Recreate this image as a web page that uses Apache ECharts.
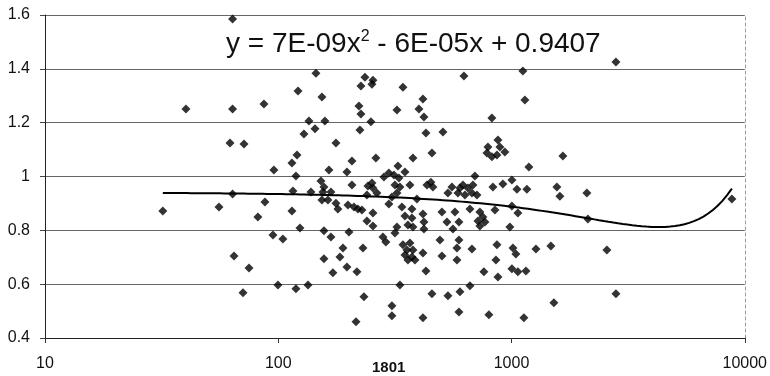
<!DOCTYPE html>
<html>
<head>
<meta charset="utf-8">
<script src="https://cdn.jsdelivr.net/npm/echarts@6/dist/echarts.min.js"></script>
<style>
  html, body { margin: 0; padding: 0; background: #fff; }
  #chart { width: 770px; height: 376px; }
</style>
</head>
<body>
<div id="chart"></div>
<script>
// scatter points (x on log scale)
const pointX = [
  63.7, 40.2, 63.7, 86.8, 62.1, 71.3, 95.8, 32.0, 55.7, 63.7, 87.7, 81.8, 94.9, 64.6, 74.9, 70.6, 99.7,
  145.1, 235.3, 226.2, 254.6, 252.1, 121.5, 153.9, 342.4, 625.2, 221.8, 226.2, 322.7, 417.1, 400.9, 421.2,
  135.4, 158.5, 249.6, 824.1, 128.9, 143.7, 224.0, 429.6, 508.2, 176.7, 874.5, 120.3, 114.5, 455.8, 377.9,
  262.2, 325.9, 207.0, 792.3, 784.5, 824.1, 891.8, 936.9, 865.9, 164.9, 197.0, 119.1, 283.8, 298.1, 313.3,
  329.1, 349.2, 696.8, 1119, 1141, 2803, 1661, 1187, 1004,
  152.4, 157.0, 115.6, 138.1, 155.4, 168.2, 207.0, 242.4, 252.1, 254.6, 264.8, 240.0, 316.4, 332.4, 366.9,
  322.7, 307.1, 433.9, 451.3, 460.3, 533.9, 555.4, 589.2, 601.0, 619.0, 631.4, 650.3, 676.5, 710.8, 683.3,
  832.3, 918.5, 1055, 1164, 1565, 1612, 2105, 8805, 393.1,
  153.9, 163.3, 176.7, 180.2, 199.0, 211.2, 219.6, 228.5, 298.1, 339.0, 374.2, 254.6, 240.0, 254.6, 114.5,
  123.9, 349.2, 374.2, 359.7, 377.9, 417.1, 421.2, 421.2, 322.7, 316.4, 503.2, 572.1, 528.6, 595.1, 560.9,
  663.3, 732.0, 754.0, 769.1, 717.8, 732.0, 849.0, 984.2, 1004, 1065, 2126,
  104.7, 157.0, 168.2, 201.0, 281.0, 289.4, 189.4, 230.7, 157.0, 183.8, 342.4, 366.9, 356.2, 377.9, 349.2,
  374.2, 385.4, 359.7, 417.1, 493.3, 595.1, 503.2, 583.5, 583.5, 676.5, 865.9, 857.4, 1014, 1044, 1273,
  1475, 2564,
  197.0, 171.5, 217.5, 429.6, 761.5, 874.5, 1004, 1065, 1153, 119.1, 134.1, 233.0, 332.4, 663.3, 455.8,
  533.9, 601.0, 2803,
  307.1, 307.1, 215.4, 417.1, 595.1, 800.0, 1519, 1130
];
const pointY = [
  1.585, 1.251, 1.251, 1.269, 1.124, 1.121, 1.024, 0.872, 0.887, 0.935, 0.905, 0.850, 0.783, 0.705, 0.660, 0.568, 0.597,
  1.384, 1.369, 1.336, 1.358, 1.343, 1.318, 1.295, 1.332, 1.373, 1.262, 1.232, 1.247, 1.288, 1.251, 1.221,
  1.206, 1.206, 1.203, 1.217, 1.158, 1.177, 1.173, 1.162, 1.165, 1.124, 1.136, 1.080, 1.050, 1.087, 1.069,
  1.069, 1.039, 1.058, 1.110, 1.087, 1.073, 1.110, 1.091, 1.080, 1.024, 1.017, 1.002, 0.998, 1.013, 1.006,
  0.994, 1.017, 1.002, 1.392, 1.284, 1.425, 1.076, 1.035, 0.987,
  0.983, 0.961, 0.946, 0.942, 0.942, 0.942, 0.968, 0.965, 0.976, 0.957, 0.939, 0.931, 0.968, 0.961, 0.968,
  0.939, 0.924, 0.968, 0.979, 0.961, 0.939, 0.961, 0.939, 0.957, 0.968, 0.931, 0.957, 0.939, 0.931, 0.968,
  0.961, 0.972, 0.953, 0.953, 0.961, 0.927, 0.939, 0.916, 0.916,
  0.913, 0.913, 0.901, 0.879, 0.894, 0.887, 0.879, 0.876, 0.898, 0.887, 0.879, 0.864, 0.835, 0.816, 0.872,
  0.809, 0.853, 0.846, 0.820, 0.812, 0.861, 0.831, 0.805, 0.812, 0.790, 0.868, 0.868, 0.831, 0.831, 0.805,
  0.879, 0.868, 0.850, 0.831, 0.835, 0.816, 0.876, 0.812, 0.890, 0.864, 0.842,
  0.768, 0.798, 0.775, 0.794, 0.775, 0.757, 0.734, 0.734, 0.694, 0.701, 0.746, 0.753, 0.727, 0.727, 0.708,
  0.701, 0.690, 0.690, 0.716, 0.764, 0.764, 0.705, 0.734, 0.690, 0.731, 0.746, 0.690, 0.734, 0.712, 0.731,
  0.742, 0.727,
  0.664, 0.642, 0.646, 0.649, 0.646, 0.627, 0.657, 0.646, 0.649, 0.583, 0.597, 0.553, 0.597, 0.594, 0.564,
  0.557, 0.572, 0.564,
  0.520, 0.483, 0.460, 0.475, 0.497, 0.486, 0.531, 0.475
];

// polynomial trendline as printed on the chart: a*x^2 + b*x + c
const trendCoef = [7e-9, -6e-5, 0.9407];
const trendLabel = 'y = 7E-09x{sup|2} - 6E-05x + 0.9407';
const xTicks = [10, 100, 1000, 10000];
const yTicks = [0.4, 0.6, 0.8, 1, 1.2, 1.4, 1.6];

const scatterData = pointX.map((x, i) => [x, pointY[i]]);

const xLo = Math.min(...pointX);
const xHi = Math.max(...pointX);
const trendData = [];
for (let i = 0; i <= 120; i++) {
  const x = Math.pow(10, Math.log10(xLo) + (Math.log10(xHi) - Math.log10(xLo)) * i / 120);
  trendData.push([x, trendCoef[0] * x * x + trendCoef[1] * x + trendCoef[2]]);
}

const font = '"Liberation Sans", Arial, sans-serif';

const chart = echarts.init(document.getElementById('chart'));
chart.setOption({
  animation: false,
  backgroundColor: '#fff',
  grid: { left: 45, right: 25, top: 15, bottom: 38 },
  xAxis: {
    type: 'log',
    logBase: 10,
    min: xTicks[0],
    max: xTicks[xTicks.length - 1],
    axisLine: { lineStyle: { color: '#222', width: 1 } },
    axisTick: { show: true, length: 5, lineStyle: { color: '#333' } },
    minorTick: { show: false },
    splitLine: { show: false },
    axisLabel: {
      color: '#111', fontSize: 16, fontFamily: font, margin: 18,
      formatter: v => String(Math.round(v))
    }
  },
  yAxis: [
    {
      type: 'value',
      min: yTicks[0],
      max: yTicks[yTicks.length - 1],
      interval: 0.2,
      axisLine: { show: true, lineStyle: { color: '#222', width: 1 } },
      axisTick: { show: true, length: 5, lineStyle: { color: '#444' } },
      splitLine: { show: true, lineStyle: { color: '#666', width: 1 } },
      axisLabel: {
        color: '#111', fontSize: 16, fontFamily: font, margin: 15,
        formatter: v => String(+v.toFixed(1))
      }
    },
    {
      type: 'value',
      position: 'right',
      min: yTicks[0],
      max: yTicks[yTicks.length - 1],
      interval: 0.2,
      axisLine: { show: true, lineStyle: { color: '#999', type: [3, 3], width: 1 } },
      axisTick: { show: false },
      axisLabel: { show: false },
      splitLine: { show: false }
    }
  ],
  graphic: [
    {
      type: 'text',
      left: 372,
      top: 360,
      style: { text: '1801', font: 'bold 15px ' + font, fill: '#111' }
    }
  ],
  title: {
    text: trendLabel,
    left: 221,
    top: 24,
    textStyle: {
      fontFamily: font,
      fontSize: 28,
      fontWeight: 'normal',
      color: '#111',
      rich: {
        sup: { fontSize: 16, verticalAlign: 'top', padding: [0, 0, 14, 0], fontFamily: font, color: '#111' }
      }
    }
  },
  series: [
    {
      type: 'scatter',
      data: scatterData,
      symbol: 'diamond',
      symbolSize: 9,
      itemStyle: { color: '#000' },
      z: 3
    },
    {
      type: 'line',
      data: trendData,
      showSymbol: false,
      lineStyle: { color: '#000', width: 2 },
      z: 4,
      silent: true
    }
  ]
});
</script>
</body>
</html>
